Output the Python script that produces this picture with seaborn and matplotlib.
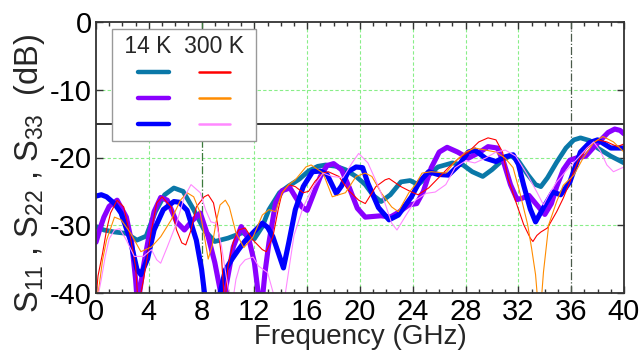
import numpy as np
import pandas as pd
import matplotlib
matplotlib.use("Agg")
import matplotlib.pyplot as plt
from matplotlib.lines import Line2D
from matplotlib.ticker import MultipleLocator
import seaborn as sns

# ---------------- data ----------------
# 14 K, teal
f_teal = [0, 0.6, 1.4, 2.3, 3.1, 3.8, 4.5, 5.2, 5.9, 6.6, 7.4, 8.2, 9.0, 10.0, 11.1, 12.0, 12.6, 13.1,
          13.9, 14.6, 15.4, 16.1, 16.8, 17.4, 18.2, 18.9, 19.7, 20.4, 21.0, 21.6, 22.3, 23.1, 23.8, 24.4,
          25.0, 25.9, 27.0, 27.8, 28.5, 29.3, 30.0, 30.8, 31.4, 32.0, 32.7, 33.3, 33.7, 34.2, 34.9, 35.6,
          36.2, 36.7, 37.4, 38.0, 39.0, 40.0]
db_teal = [-30.2, -30.7, -31.0, -31.2, -32.2, -31.6, -28.0, -25.5, -24.5, -25.0, -27.7, -30.7, -32.4, -31.9,
           -31.1, -32.0, -30.2, -27.7, -25.2, -24.2, -23.2, -22.0, -21.3, -21.1, -21.3, -21.8, -22.8, -24.0,
           -25.6, -26.5, -25.5, -23.6, -23.4, -24.0, -23.0, -21.4, -20.8, -21.1, -22.1, -22.8, -21.8, -20.4,
           -19.7, -20.5, -22.5, -24.0, -24.3, -23.0, -20.7, -18.6, -17.4, -17.1, -17.5, -18.6, -19.8, -20.8]

# 14 K, purple
f_purple = [0, 0.3, 0.6, 1.0, 1.6, 2.3, 2.7, 3.0, 3.15, 3.3, 3.6, 4.0, 4.4, 4.9, 5.4, 6.1, 6.7, 7.3, 7.9,
            8.5, 9.0, 9.4, 9.65, 9.9, 10.4, 11.0, 11.6, 12.0, 12.35, 12.55, 12.8, 13.1, 13.6, 14.1, 14.7,
            15.1, 15.6, 16.0, 16.4, 17.0, 17.5, 18.0, 18.6, 19.2, 19.8, 20.4, 21.0, 21.6, 22.3, 23.0, 23.7,
            24.3, 24.8, 25.4, 26.0, 26.6, 27.4, 28.2, 29.0, 29.7, 30.4, 30.9, 31.4, 31.9, 32.3, 32.8, 33.4,
            34.0, 34.5, 34.9, 35.4, 35.9, 36.5, 37.1, 37.7, 38.3, 38.8, 39.3, 39.7, 40.0]
db_purple = [-32.5, -30.5, -28.8, -27.2, -26.3, -28.8, -32.5, -38.0, -42.0, -40.0, -36.0, -31.7, -28.0,
             -25.9, -26.3, -29.5, -30.7, -29.3, -28.2, -31.7, -35.5, -39.5, -42.0, -38.5, -33.2, -30.2,
             -32.2, -35.5, -41.0, -42.0, -37.0, -32.6, -26.7, -24.9, -24.5, -25.8, -27.3, -27.8, -25.8,
             -22.8, -21.2, -20.9, -21.8, -24.5, -27.5, -28.8, -28.7, -28.6, -28.8, -28.0, -27.0, -26.8,
             -25.0, -21.5, -19.2, -18.5, -19.2, -20.1, -19.3, -18.4, -18.6, -20.8, -24.0, -26.2, -26.0,
             -25.6, -27.0, -28.4, -26.8, -24.3, -21.8, -20.4, -20.0, -19.8, -18.5, -17.3, -16.3, -15.8,
             -16.0, -16.5]

# 14 K, blue
f_blue = [0, 0.4, 0.8, 1.4, 1.9, 2.6, 3.1, 3.4, 3.9, 4.4, 5.1, 5.9, 6.3, 6.9, 7.6, 8.0, 8.25, 8.6, 9.1,
          9.4, 9.8, 10.3, 10.8, 11.3, 11.9, 12.6, 13.0, 13.4, 13.8, 14.2, 14.6, 15.1, 15.7, 16.4, 17.0,
          17.5, 18.2, 18.6, 19.1, 19.7, 20.2, 20.6, 21.4, 22.2, 22.9, 23.9, 24.5, 25.2, 25.9, 26.7, 27.5,
          28.2, 28.7, 29.5, 30.3, 31.0, 31.6, 32.0, 32.4, 32.9, 33.3, 33.9, 34.6, 35.2, 35.9, 36.7, 37.4,
          38.0, 39.0, 40.0]
db_blue = [-25.7, -25.5, -25.8, -26.8, -28.2, -32.2, -36.5, -37.3, -35.0, -30.7, -27.7, -26.5, -26.6,
           -27.8, -32.2, -36.5, -40.5, -42.0, -42.0, -40.0, -36.6, -35.0, -33.6, -32.3, -31.1, -29.7,
           -30.3, -31.7, -34.0, -36.3, -32.6, -27.7, -24.3, -22.1, -22.0, -22.5, -25.3, -24.2, -22.1,
           -21.4, -21.5, -23.8, -27.4, -29.2, -28.5, -25.8, -23.6, -22.1, -22.5, -22.6, -21.1, -19.2,
           -18.9, -20.1, -20.6, -19.9, -19.6, -21.0, -24.1, -27.6, -29.5, -27.4, -25.1, -25.5, -23.6,
           -19.2, -17.8, -17.4, -18.6, -18.6]

# 300 K, red
f_red = [0, 0.15, 0.5, 0.8, 1.1, 1.6, 2.1, 2.6, 3.0, 3.2, 3.6, 3.9, 4.2, 4.6, 5.0, 5.7, 6.1, 6.5, 6.8,
         7.2, 7.6, 8.2, 8.5, 8.9, 9.2, 9.5, 9.75, 10.0, 10.4, 10.8, 11.3, 11.9, 12.6, 12.9, 13.4, 13.8,
         14.1, 14.6, 15.1, 15.7, 16.1, 16.6, 17.2, 17.6, 18.4, 19.1, 19.9, 20.4, 21.2, 21.9, 22.2, 23.1,
         23.8, 24.4, 25.2, 25.9, 26.7, 27.5, 28.2, 29.0, 29.7, 30.3, 30.8, 31.2, 31.8, 32.4, 32.9, 33.1,
         33.4, 33.7, 34.2, 34.9, 35.4, 35.9, 36.5, 37.2, 38.0, 38.7, 39.5, 40.0]
db_red = [-41.0, -37.5, -34.1, -30.7, -28.2, -26.3, -27.3, -31.7, -36.1, -42.0, -38.0, -34.5, -30.7,
          -26.7, -25.8, -27.3, -30.7, -32.6, -32.9, -30.7, -27.3, -25.8, -25.5, -26.7, -29.7, -34.5,
          -42.0, -36.0, -32.5, -30.7, -30.4, -32.2, -33.6, -33.9, -31.7, -27.7, -25.2, -24.0, -24.3,
          -25.2, -25.0, -23.5, -22.3, -22.1, -22.8, -24.8, -26.3, -26.8, -24.3, -23.3, -23.1, -24.3,
          -25.0, -25.5, -24.5, -23.1, -21.5, -20.1, -19.2, -17.7, -17.1, -17.4, -19.2, -23.0, -26.5,
          -29.9, -31.9, -32.4, -31.5, -31.0, -30.4, -28.0, -26.0, -23.6, -20.6, -18.6, -17.4, -17.7,
          -18.4, -18.0]

# 300 K, orange
f_orange = [0, 0.2, 0.5, 0.8, 1.4, 1.9, 2.6, 3.4, 4.2, 4.9, 5.7, 6.4, 6.9, 7.4, 7.9, 8.2, 8.5, 8.8, 9.1,
            9.4, 9.8, 10.1, 10.6, 11.2, 11.9, 12.6, 13.1, 13.6, 14.1, 14.6, 15.1, 15.9, 16.3, 17.2, 17.9,
            18.9, 19.7, 20.4, 20.9, 21.6, 22.4, 22.9, 23.7, 24.2, 24.7, 25.4, 26.5, 27.2, 28.0, 28.7,
            29.5, 30.3, 31.0, 31.6, 32.1, 32.7, 33.0, 33.3, 33.5, 33.7, 33.9, 34.3, 34.9, 35.4, 36.2,
            36.9, 37.7, 38.4, 39.2, 40.0]
db_orange = [-41.0, -39.5, -35.1, -32.2, -28.8, -29.2, -31.1, -33.9, -33.2, -31.7, -29.2, -26.3, -25.2,
             -25.8, -28.2, -31.5, -35.0, -33.0, -29.5, -27.0, -26.3, -27.3, -31.1, -33.3, -31.7, -28.5,
             -27.7, -28.0, -25.2, -24.0, -23.3, -21.4, -21.1, -22.3, -25.8, -25.2, -22.8, -22.3, -22.8,
             -25.2, -27.3, -28.0, -25.2, -24.0, -22.3, -22.1, -22.3, -20.6, -19.2, -18.6, -18.9, -19.2,
             -20.1, -21.5, -25.1, -29.9, -33.4, -37.3, -42.0, -42.0, -36.9, -29.9, -26.5, -24.1, -22.6,
             -20.1, -17.8, -16.9, -17.7, -19.2]

# 300 K, pink
f_pink = [0, 0.4, 0.7, 1.0, 1.4, 1.8, 2.3, 2.9, 3.6, 4.2, 4.6, 4.9, 5.4, 6.1, 6.7, 7.2, 7.9, 8.3, 8.7,
          9.1, 9.5, 9.9, 10.3, 10.6, 10.9, 11.3, 11.9, 12.3, 13.0, 13.5, 14.2, 14.5, 15.0, 15.7, 16.4,
          17.2, 17.9, 18.7, 19.4, 19.9, 20.6, 21.4, 21.9, 22.4, 22.8, 23.4, 24.2, 25.0, 25.7, 26.5, 27.2,
          28.0, 28.7, 29.5, 30.3, 31.0, 31.8, 32.7, 33.4, 33.9, 34.3, 34.9, 35.7, 36.5, 37.2, 37.7, 38.2,
          38.7, 39.2, 40.0]
db_pink = [-42.0, -38.0, -34.6, -32.0, -30.7, -30.5, -32.2, -34.6, -34.6, -33.6, -35.1, -35.6, -33.2,
           -29.7, -25.8, -24.0, -25.2, -27.7, -29.5, -29.7, -33.0, -38.0, -42.0, -38.0, -36.0, -35.1,
           -34.7, -36.0, -37.0, -40.5, -42.0, -38.0, -31.5, -27.3, -24.5, -22.3, -22.8, -23.0, -20.8,
           -19.4, -20.8, -24.3, -26.8, -29.7, -30.7, -28.8, -26.3, -25.3, -25.1, -24.0, -21.5, -20.5,
           -20.8, -20.1, -19.2, -18.9, -19.8, -22.6, -25.1, -27.0, -25.5, -23.6, -21.8, -20.1, -18.6,
           -17.7, -19.0, -21.1, -22.1, -21.4]

temps = ["14 K", "300 K"]
threshold_db = -15
marker_freqs = [8, 36]
x_ticks = [0, 4, 8, 12, 16, 20, 24, 28, 32, 36, 40]
y_ticks = [0, -10, -20, -30, -40]

# ---------------- style ----------------
sns.set_theme(style="ticks")
plt.rcParams["font.family"] = ["Liberation Sans", "DejaVu Sans"]
plt.rcParams["mathtext.fontset"] = "custom"
plt.rcParams["mathtext.rm"] = "Liberation Sans"
plt.rcParams["mathtext.it"] = "Liberation Sans:italic"
plt.rcParams["axes.unicode_minus"] = False

fig = plt.figure(figsize=(6.41, 3.53), dpi=100)
ax = fig.add_axes([96 / 641, 1 - 293 / 353, 528 / 641, 271 / 353])

grid_col = "#88ee88"
for v in x_ticks:
    if v not in marker_freqs and 0 < v < 40:
        ax.axvline(v, color=grid_col, lw=0.8, ls=(0, (3, 2)), zorder=0)
for v in y_ticks:
    if -40 < v < 0:
        ax.axhline(v, color=grid_col, lw=0.8, ls=(0, (3, 2)), zorder=0)
ax.axvline(marker_freqs[0], color="#3b7a3b", lw=0.9, ls="-.", zorder=1)
ax.axvline(marker_freqs[1], color="#4a5a4a", lw=0.9, ls="-.", zorder=1)
ax.axhline(threshold_db, color="#222222", lw=1.3, zorder=1)

series = [
    (f_teal, db_teal, "#0a78a8", 3.4),
    (f_purple, db_purple, "#8a00ff", 3.7),
    (f_blue, db_blue, "#0000ff", 3.7),
    (f_red, db_red, "#ff0000", 0.8),
    (f_orange, db_orange, "#ff8c00", 0.8),
    (f_pink, db_pink, "#ff88ff", 0.8),
]
for fx, dy, col, lw in series:
    sns.lineplot(x=fx, y=dy, ax=ax, color=col, lw=lw, sort=False, estimator=None,
                 legend=False, solid_capstyle="round", solid_joinstyle="round")

ax.set_xlim(0, 40)
ax.set_ylim(-40, 0)
ax.set_xticks(x_ticks)
ax.set_yticks(y_ticks)
ax.xaxis.set_minor_locator(MultipleLocator(1))
ax.tick_params(which="both", direction="in", top=True, right=True, colors="#333333",
               labelcolor="black", labelsize=21, width=1.0)
ax.tick_params(which="major", length=5)
ax.tick_params(which="minor", length=3)
ax.tick_params(axis="x", which="major", pad=3.5)
ax.tick_params(axis="y", which="major", pad=3)
for s in ax.spines.values():
    s.set_color("#333333")
    s.set_linewidth(1.3)

ax.set_xlabel("Frequency (GHz)", fontsize=20, labelpad=-1)
ax.set_ylabel(r"S$_\mathregular{11}$ , S$_\mathregular{22}$ , S$_\mathregular{33}$  (dB)",
              fontsize=23.5)
ax.yaxis.set_label_coords(-0.092, 0.44)

handles = [
    Line2D([], [], color="#0a78a8", lw=3.2),
    Line2D([], [], color="#8a00ff", lw=3.2),
    Line2D([], [], color="#0000ff", lw=3.2),
    Line2D([], [], color="#ff0000", lw=1.8),
    Line2D([], [], color="#ff8c00", lw=1.8),
    Line2D([], [], color="#ff88ff", lw=1.8),
]
leg = ax.legend(handles, [""] * 6, ncol=2, title=f" {temps[0]}  {temps[1]} ", title_fontsize=16.5,
                loc="upper left", bbox_to_anchor=(0.030, 0.974), borderaxespad=0,
                frameon=True, fancybox=False, edgecolor="#999999", framealpha=1,
                prop={"size": 15}, handlelength=1.5, handletextpad=0.0, columnspacing=1.45,
                labelspacing=0.32, borderpad=0.28)
leg.get_frame().set_linewidth(1.0)
leg.set_zorder(5)

fig.savefig("out.png", dpi=100)
